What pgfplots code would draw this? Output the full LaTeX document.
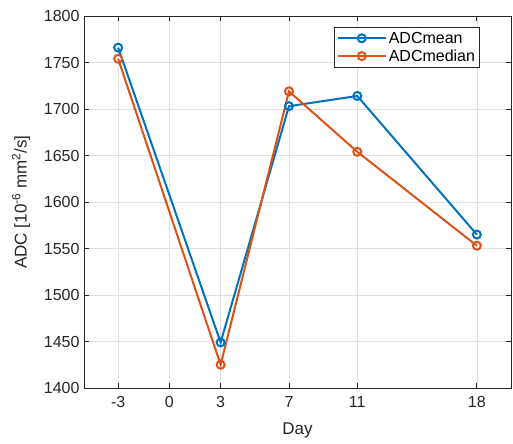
\documentclass[border=0pt]{standalone}
\usepackage{pgfplots}
\pgfplotsset{compat=1.18}
\usepackage{fontspec}
\setmainfont{Liberation Sans}
\definecolor{mblue}{RGB}{0,114,189}
\definecolor{morange}{RGB}{217,83,25}
\definecolor{axgray}{RGB}{38,38,38}
\begin{document}
\begin{tikzpicture}
\begin{axis}[
  scale only axis,
  width=427bp, height=372bp,
  xmin=-5, xmax=20,
  ymin=1400, ymax=1800,
  xtick={-3,0,3,7,11,18},
  ytick={1400,1450,1500,1550,1600,1650,1700,1750,1800},
  /pgf/number format/assume math mode=true,
  /pgf/number format/1000 sep={},
  tick label style={font=\fontsize{16bp}{19bp}\selectfont, text=axgray},
  label style={font=\fontsize{17bp}{20bp}\selectfont, text=axgray},
  xticklabel style={yshift=-5bp},
  yticklabel style={xshift=-1bp},
  xlabel={Day},
  ylabel={ADC [10\textsuperscript{-6} mm\textsuperscript{2}/s]},
  xlabel style={yshift=-8bp},
  ylabel style={yshift=7bp},
  grid=major,
  major grid style={color=black!12, line width=0.6pt},
  axis line style={color=axgray, line width=0.7pt},
  tick style={color=axgray, line width=0.7pt},
  tick align=inside,
  major tick length=5bp,
  legend style={at={(0.927,0.97)}, anchor=north east, draw=axgray, line width=0.6pt,
    font=\fontsize{16bp}{19bp}\selectfont, row sep=1bp, inner sep=2.5bp,
    cells={anchor=west}},
  legend cell align=left,
  legend image code/.code={
    \draw[mark repeat=2,mark phase=2,#1] plot coordinates {(0bp,0bp) (24bp,0bp) (48bp,0bp)};
  },
]
\addplot[color=mblue, line width=2pt, mark=o, mark size=4bp, mark options={line width=2pt}]
  coordinates {(-3,1766) (3,1449) (7,1703) (11,1714) (18,1565)};
\addlegendentry{ADCmean}
\addplot[color=morange, line width=2pt, mark=o, mark size=4bp, mark options={line width=2pt}]
  coordinates {(-3,1754) (3,1425) (7,1719) (11,1654) (18,1553)};
\addlegendentry{ADCmedian}
\end{axis}
\useasboundingbox (current axis.south west) ++(-84bp,-56bp) rectangle ++(513bp,444bp);
\end{tikzpicture}
\end{document}
